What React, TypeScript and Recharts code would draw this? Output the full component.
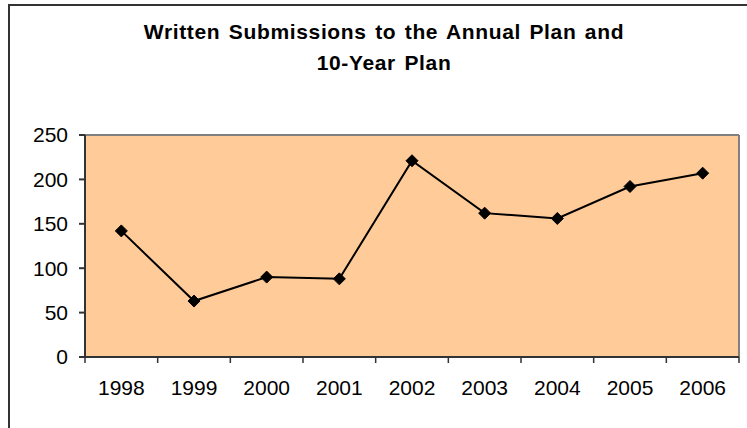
import { LineChart, Line, XAxis, YAxis, CartesianGrid, ReferenceLine } from "recharts";

const YEARS = ["1998", "1999", "2000", "2001", "2002", "2003", "2004", "2005", "2006"];
const SUBMISSIONS = [142, 63, 90, 88, 221, 162, 156, 192, 207];
const Y_TICKS = [0, 50, 100, 150, 200, 250];

// each year sits in the middle of its slot, tick marks go on the slot edges
const data = YEARS.map((year, i) => ({ year, value: SUBMISSIONS[i], slot: i + 0.5 }));
const X_TICKS = [0, ...data.flatMap((d) => [d.slot, d.slot + 0.5])];

const FONT = "'Liberation Sans', Arial, sans-serif";

// black diamond marker like Excel's default
const Diamond = (props: any) => {
    const { cx, cy, index } = props;
    if (cx == null || cy == null) return null;
    const r = 6;
    return (
        <polygon
            key={`dot-${index}`}
            points={`${cx},${cy - r} ${cx + r},${cy} ${cx},${cy + r} ${cx - r},${cy}`}
            fill="#000"
            stroke="#000"
        />
    );
};

// integer ticks -> small mark, half ticks -> year label
const YearTick = (props: any) => {
    const { x, y, payload } = props;
    const v = payload.value;
    if (Number.isInteger(v)) {
        return <line x1={x} y1={y} x2={x} y2={y + 6} stroke="#333" strokeWidth={1.5} />;
    }
    return (
        <text x={x} y={y + 38} textAnchor="middle" fill="#000" fontSize={21} fontFamily={FONT}>
            {YEARS[Math.floor(v)]}
        </text>
    );
};

export default function App() {
    return (
        <div>
            <div
                style={{
                    position: "absolute",
                    left: 8,
                    top: 4,
                    width: 760,
                    height: 440,
                    border: "2px solid #333",
                }}
            />
            <div
                style={{
                    position: "absolute",
                    left: 0,
                    top: 16,
                    width: 768,
                    textAlign: "center",
                    fontFamily: FONT,
                    fontWeight: "bold",
                    fontSize: 21,
                    lineHeight: "31px",
                    letterSpacing: 0.65,
                    wordSpacing: 2,
                    color: "#000",
                }}
            >
                Written Submissions to the Annual Plan and
                <br />
                10-Year Plan
            </div>
            <div style={{ position: "absolute", left: 0, top: 0 }}>
                <LineChart
                    width={747}
                    height={428}
                    data={data}
                    margin={{ top: 135, right: 8, bottom: 41, left: 25 }}
                >
                    <CartesianGrid fill="#FFCC99" horizontal={false} vertical={false} />
                    <XAxis
                        dataKey="slot"
                        type="number"
                        domain={[0, YEARS.length]}
                        ticks={X_TICKS}
                        interval={0}
                        height={30}
                        tickSize={0}
                        tickMargin={0}
                        tickLine={false}
                        tick={<YearTick />}
                        stroke="#333"
                        strokeWidth={2}
                    />
                    <YAxis
                        domain={[0, 250]}
                        ticks={Y_TICKS}
                        width={60}
                        tickSize={6}
                        tickMargin={11}
                        stroke="#333"
                        strokeWidth={2}
                        tick={{ fill: "#000", fontSize: 21, fontFamily: FONT }}
                    />
                    <ReferenceLine y={250} stroke="#808080" strokeWidth={2} />
                    <ReferenceLine x={YEARS.length} stroke="#808080" strokeWidth={2} />
                    <Line
                        dataKey="value"
                        stroke="#000"
                        strokeWidth={2}
                        dot={<Diamond />}
                        activeDot={false}
                        isAnimationActive={false}
                    />
                </LineChart>
            </div>
        </div>
    );
}
